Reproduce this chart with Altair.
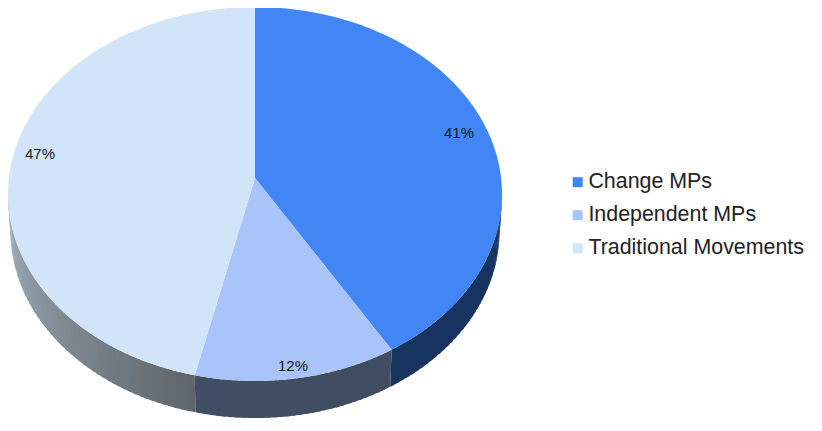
import numpy as np
import altair as alt

names = ["Change MPs", "Independent MPs", "Traditional Movements"]
shares = [41.4, 12.2, 46.4]
shown = ["41%", "12%", "47%"]
colors = ["#4285f4", "#a8c4f8", "#d2e4f7"]
side_from = ["#17335f", "#414d60", "#5f666b"]
side_to = ["#17335f", "#424e63", "#a3b2c0"]
label_at = [(459, 133), (293, 366), (40, 154)]

CX, CY, RX, RY = 255 - 8, 194 - 8, 247, 187
APEX = 16 / 187
DEPTH, RX_LOW = 37, 244.5


def boundary(pct):
    """Ellipse parameter (deg clockwise from top) for a cumulative percent, in perspective."""
    t = np.radians(pct * 3.6)
    d = 1 + APEX * np.cos(t)
    x = np.sin(t) * np.sqrt(1 - APEX ** 2) / d
    y = (np.cos(t) + APEX) / d
    return np.degrees(np.arctan2(x, y)) % 360 if pct else 0.0


def pt(phi, rx=RX, dy=0):
    a = np.radians(phi)
    return [float(CX + rx * np.sin(a)), float(CY - RY * np.cos(a) + dy)]


def mix(c0, c1, f):
    a = [int(c0[i:i + 2], 16) for i in (1, 3, 5)]
    b = [int(c1[i:i + 2], 16) for i in (1, 3, 5)]
    return "#" + "".join(f"{round(p + (q - p) * f):02x}" for p, q in zip(a, b))


def feature(ring, **props):
    ring = ring + [ring[0]]
    return {"type": "Feature", "properties": props,
            "geometry": {"type": "Polygon", "coordinates": [ring]}}


cum = np.concatenate([[0], np.cumsum(shares)])
edges = [boundary(c) for c in cum[:-1]] + [360.0]

tops, sides = [], []
for i, name in enumerate(names):
    a, b = edges[i], edges[i + 1]
    arc = np.linspace(a, b, 160)
    tops.append(feature([[CX, CY - APEX * RY]] + [pt(p) for p in arc], name=name))
    lo, hi = max(a, 90.0), min(b, 270.0)
    if hi > lo:
        steps = np.arange(lo, hi, 1.5)
        for s in steps:
            e = min(s + 2.2, hi)
            f = (s - lo) / max(hi - lo, 1e-6)
            ring = [pt(s), pt(e), pt(e, RX_LOW, DEPTH), pt(s, RX_LOW, DEPTH)]
            sides.append(feature(ring, color=mix(side_from[i], side_to[i], f)))

proj = dict(type="identity", scale=1, translate=[0, 0])

side_layer = alt.Chart(alt.Data(values=sides)).mark_geoshape(strokeWidth=0).encode(
    fill=alt.Fill("properties.color:N", scale=None, legend=None)
).project(**proj)

top_layer = alt.Chart(alt.Data(values=tops)).mark_geoshape(strokeWidth=0).encode(
    color=alt.Color(
        "properties.name:N",
        scale=alt.Scale(domain=names, range=colors),
        legend=alt.Legend(
            title=None, orient="none", legendX=559, legendY=163.5,
            symbolType="square", symbolSize=100, symbolStrokeWidth=0,
            labelFont="Liberation Sans", labelFontSize=21.4, labelColor="#222222",
            labelOffset=0, rowPadding=10, labelLimit=300,
        ),
    )
).project(**proj)

label_rows = [{"t": t, "lon": x - 8, "lat": y - 8} for t, (x, y) in zip(shown, label_at)]
text_layer = alt.Chart(alt.Data(values=label_rows)).mark_text(
    font="Liberation Sans", fontSize=15, color="#1a1a1a", align="center", baseline="middle"
).encode(longitude="lon:Q", latitude="lat:Q", text="t:N").project(**proj)

chart = alt.layer(side_layer, top_layer, text_layer).properties(
    width=806, height=415, padding=0, autosize=alt.AutoSizeParams(type="none"),
    background="white",
).configure_view(stroke=None)

chart.save("out.html", embed_options={"renderer": "svg", "actions": False})
